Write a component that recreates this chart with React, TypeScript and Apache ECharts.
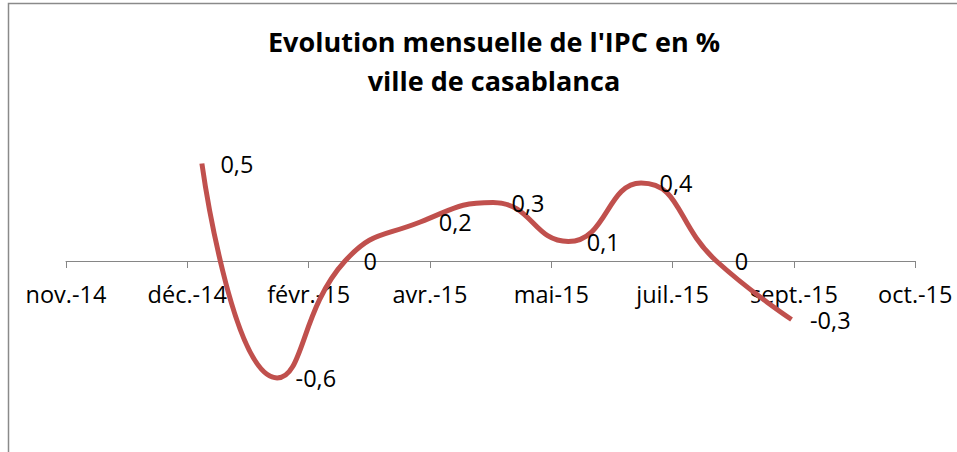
import React, { useEffect, useRef } from "react";
import * as echarts from "echarts";

// Data
const months: string[] = ["2015-01", "2015-02", "2015-03", "2015-04", "2015-05", "2015-06", "2015-07", "2015-08", "2015-09"];
const ipcValues: number[] = [0.5, -0.6, 0, 0.2, 0.3, 0.1, 0.4, 0, -0.3];
const tickLabels: string[] = ["nov.-14", "déc.-14", "févr.-15", "avr.-15", "mai-15", "juil.-15", "sept.-15", "oct.-15"];
const axisStartDate = "2014-11-06"; // date axis origin
const tickIntervalDays = 50;

const titleText = "Evolution mensuelle de l'IPC en %\nville de casablanca";

const DAY = 86400000;
const dayOffset = (iso: string): number => {
  const [y, m, d] = iso.split("-").map(Number);
  const [y0, m0, d0] = axisStartDate.split("-").map(Number);
  return Math.round((Date.UTC(y, m - 1, d || 1) - Date.UTC(y0, m0 - 1, d0)) / DAY);
};

export default function App() {
  const ref = useRef<HTMLDivElement>(null);
  useEffect(() => {
    if (!ref.current) return;
    const chart = echarts.init(ref.current, undefined, { renderer: "svg" });
    const font = "'Open Sans', 'Liberation Sans', sans-serif";
    const data = months.map((m, i) => [dayOffset(m), ipcValues[i]]);
    chart.setOption({
      animation: false,
      backgroundColor: "#ffffff",
      title: {
        text: titleText,
        left: 489,
        top: 17,
        textAlign: "center",
        textStyle: {
          fontFamily: font,
          fontSize: 27,
          fontWeight: "bold",
          color: "#000000",
          lineHeight: 39,
        },
      },
      graphic: [
        {
          type: "rect",
          shape: { x: 8.5, y: 3.5, width: 1200, height: 800 },
          style: { fill: "none", stroke: "#8a8a8a", lineWidth: 1.5 },
          silent: true,
        },
      ],
      // grid spans the positive half only; the x axis sits at value 0 and the
      // negative part of the line is drawn below it (clip: false)
      grid: { left: 66, right: 41.7, top: 144, bottom: 191 },
      xAxis: {
        type: "value",
        min: 0,
        max: tickIntervalDays * (tickLabels.length - 1),
        interval: tickIntervalDays,
        axisLine: { onZero: false, lineStyle: { color: "#868686", width: 1 } },
        axisTick: { show: true, length: 7, lineStyle: { color: "#868686" } },
        splitLine: { show: false },
        axisLabel: {
          margin: 21,
          fontFamily: font,
          fontSize: 23.5,
          color: "#000000",
          formatter: (v: number) => tickLabels[Math.round(v / tickIntervalDays)] ?? "",
        },
      },
      yAxis: {
        type: "value",
        min: 0,
        max: 0.6,
        interval: 0.2,
        show: false,
        splitLine: { show: false },
      },
      series: [
        {
          type: "line",
          data,
          clip: false,
          smooth: 0.5,
          symbol: "circle",
          symbolSize: 1,
          showSymbol: true,
          itemStyle: { opacity: 0 },
          lineStyle: { color: "#C0504D", width: 5 },
          label: {
            show: true,
            position: "right",
            distance: 18,
            fontFamily: font,
            fontSize: 23.5,
            color: "#000000",
            opacity: 1,
            formatter: (p: any) => String(p.value[1]).replace(".", ","),
          },
        },
      ],
    });
    return () => chart.dispose();
  }, []);
  return <div ref={ref} style={{ position: "absolute", left: 0, top: 0, width: 957, height: 452 }} />;
}
